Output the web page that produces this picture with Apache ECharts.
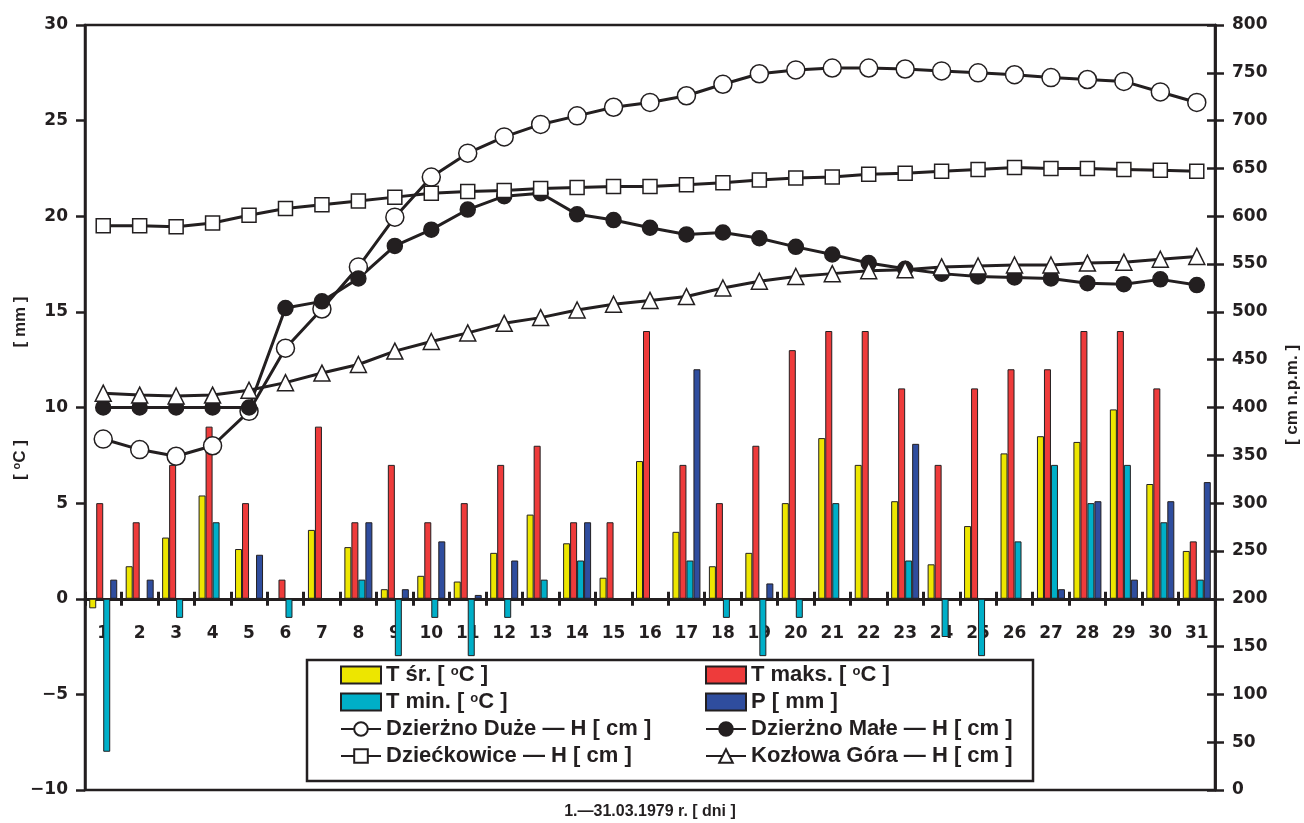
<!DOCTYPE html>
<html>
<head>
<meta charset="utf-8">
<title>Marzec 1979 – temperatura, opad i stany wód</title>
<script src="https://cdn.jsdelivr.net/npm/echarts@6/dist/echarts.min.js"></script>
<style>
  html, body { margin: 0; padding: 0; background: #ffffff; }
  #chart { width: 1304px; height: 823px; }
</style>
</head>
<body>
<div id="chart"></div>
<script>
// Days of March 1979
const days = ['1','2','3','4','5','6','7','8','9','10','11','12','13','14','15','16',
              '17','18','19','20','21','22','23','24','25','26','27','28','29','30','31'];

// Daily air temperature [°C] and precipitation [mm] (left axis)
const tAvg = [-0.5, 1.7, 3.2, 5.4, 2.6, 0, 3.6, 2.7, 0.5, 1.2, 0.9, 2.4, 4.4, 2.9, 1.1, 7.2,
              3.5, 1.7, 2.4, 5.0, 8.4, 7.0, 5.1, 1.8, 3.8, 7.6, 8.5, 8.2, 9.9, 6.0, 2.5];
const tMax = [5, 4, 7, 9, 5, 1, 9, 4, 7, 4, 5, 7, 8, 4, 4, 14,
              7, 5, 8, 13, 14, 14, 11, 7, 11, 12, 12, 14, 14, 11, 3];
const tMin = [-8, null, -1, 4, null, -1, null, 1, -3, -1, -3, -1, 1, 2, null, null,
              2, -1, -3, -1, 5, null, 2, -2, -3, 3, 7, 5, 7, 4, 1];
const precip = [1, 1, null, null, 2.3, null, null, 4, 0.5, 3, 0.2, 2, null, 4, null, null,
                12, null, 0.8, null, null, null, 8.1, null, null, null, 0.5, 5.1, 1, 5.1, 6.1];

// Reservoir water levels H [cm n.p.m.] (right axis)
const hDuze = [367, 356, 349, 360, 396, 462, 503, 547, 599, 641, 666, 683, 696, 705, 714, 719,
               726, 738, 749, 753, 755, 755, 754, 752, 750, 748, 745, 743, 741, 730, 719];
const hMale = [400, 400, 400, 400, 400, 504, 511, 535, 569, 586, 607, 621, 624, 602, 596, 588,
               581, 583, 577, 568, 560, 551, 545, 540, 537, 536, 535, 530, 529, 534, 528];
const hDzieckowice = [590, 590, 589, 593, 601, 608, 612, 616, 620, 624, 626, 627, 629, 630, 631, 631,
                      633, 635, 638, 640, 641, 644, 645, 647, 649, 651, 650, 650, 649, 648, 647];
const hKozlowa = [415, 413, 412, 413, 418, 426, 436, 445, 459, 469, 478, 488, 494, 502, 508, 512,
                  516, 525, 532, 537, 540, 543, 544, 547, 548, 549, 549, 551, 552, 555, 558];

const INK = '#231f20';
const FONT = "'Liberation Sans', Arial, Helvetica, sans-serif";
const TICK_FONT = "'DejaVu Sans', 'Liberation Sans', Arial, sans-serif";

function barSeries(name, data, color) {
  return {
    type: 'bar', name: name, data: data,
    xAxisIndex: 0, yAxisIndex: 0,
    barWidth: 7, barGap: '0%',
    itemStyle: { color: color, borderColor: INK, borderWidth: 1 },
    z: 2
  };
}

function lineSeries(name, data, symbol, size, fill) {
  return {
    type: 'line', name: name, data: data,
    xAxisIndex: 0, yAxisIndex: 1,
    symbol: symbol, symbolSize: size, showAllSymbol: true,
    itemStyle: { color: fill, borderColor: INK, borderWidth: 1.5 },
    lineStyle: { color: INK, width: 3 },
    z: 5
  };
}

const minus = v => String(v).replace('-', '\u2212');

const chart = echarts.init(document.getElementById('chart'), null, { renderer: 'canvas' });

// raised small "o" used in the degree unit
const supStyle = { fontSize: 13, fontWeight: 'bold', fontFamily: FONT, color: INK, verticalAlign: 'top', lineHeight: 6 };

const legendText = {
  fontFamily: FONT, fontWeight: 'bold', fontSize: 22, lineHeight: 20, color: INK,
  rich: { sup: supStyle }
};
const legendFmt = n => n.replace('°', '{sup|o}');
const barIcon = n => ({ name: n, icon: 'rect' });

const legendCommon = {
  top: 664, orient: 'vertical', padding: 0,
  itemWidth: 40, itemHeight: 17, itemGap: 5,
  textStyle: legendText, formatter: legendFmt, selectedMode: false
};

const tickLabel = { color: INK, fontFamily: TICK_FONT, fontWeight: 'bold', fontSize: 17 };

chart.setOption({
  animation: false,
  backgroundColor: '#ffffff',
  grid: { left: 85, right: 89, top: 25, bottom: 33, show: true, borderColor: INK, borderWidth: 2.5 },
  xAxis: [
    {
      type: 'category', data: days, position: 'bottom',
      axisLine: { onZero: true, onZeroAxisIndex: 0, lineStyle: { color: INK, width: 3 } },
      axisTick: { show: true, inside: false, length: 7, interval: 0, lineStyle: { color: INK, width: 3 } },
      // day numbers sit just below the zero line
      axisLabel: Object.assign({ interval: 0, margin: -165 }, tickLabel),
      splitLine: { show: false }
    },
    {
      // upper half of the crossing ticks on the zero line
      type: 'category', data: days, position: 'top',
      axisLine: { onZero: true, onZeroAxisIndex: 0, lineStyle: { color: INK, width: 3 } },
      axisTick: { show: true, inside: false, length: 7, interval: 0, lineStyle: { color: INK, width: 3 } },
      axisLabel: { show: false },
      splitLine: { show: false }
    }
  ],
  yAxis: [
    {
      type: 'value', position: 'left', min: -10, max: 30, interval: 5,
      axisLine: { show: true, lineStyle: { color: INK, width: 2.5 } },
      axisTick: { show: true, inside: false, length: 9, lineStyle: { color: INK, width: 2.5 } },
      axisLabel: Object.assign({ margin: 17, formatter: minus }, tickLabel),
      splitLine: { show: false }
    },
    {
      type: 'value', position: 'right', min: 0, max: 800, interval: 50,
      axisLine: { show: true, lineStyle: { color: INK, width: 2.5 } },
      axisTick: { show: true, inside: false, length: 9, lineStyle: { color: INK, width: 2.5 } },
      axisLabel: Object.assign({ margin: 17 }, tickLabel),
      splitLine: { show: false }
    },
    {
      type: 'value', position: 'right', min: 0, max: 800, interval: 50,
      axisLine: { show: true, lineStyle: { color: INK, width: 2.5 } },
      axisTick: { show: true, inside: true, length: 8, lineStyle: { color: INK, width: 2.5 } },
      axisLabel: { show: false },
      splitLine: { show: false }
    }
  ],
  legend: [
    Object.assign({ left: 340,
      data: [barIcon('T śr. [ °C ]'), barIcon('T min. [ °C ]'), 'Dzierżno Duże — H [ cm ]', 'Dziećkowice — H [ cm ]']
    }, legendCommon),
    Object.assign({ left: 705,
      data: [barIcon('T maks. [ °C ]'), barIcon('P [ mm ]'), 'Dzierżno Małe — H [ cm ]', 'Kozłowa Góra — H [ cm ]']
    }, legendCommon)
  ],
  graphic: {
    elements: [
      {
        type: 'rect', z: 3, shape: { x: 307, y: 660, width: 726, height: 121 },
        style: { fill: '#ffffff', stroke: INK, lineWidth: 2.5 }
      },
      {
        type: 'text', x: 20, y: 460, rotation: Math.PI / 2,
        style: {
          text: '[ {sup|o}C ]', textAlign: 'center', textVerticalAlign: 'middle',
          fontFamily: FONT, fontWeight: 'bold', fontSize: 17, lineHeight: 18, fill: INK,
          rich: { sup: { fontSize: 11, fontWeight: 'bold', fontFamily: FONT, fill: INK, verticalAlign: 'top', lineHeight: 6 } }
        }
      },
      {
        type: 'text', x: 20, y: 322, rotation: Math.PI / 2,
        style: {
          text: '[ mm ]', textAlign: 'center', textVerticalAlign: 'middle',
          fontFamily: FONT, fontWeight: 'bold', fontSize: 17, fill: INK
        }
      },
      {
        type: 'text', x: 1292, y: 395, rotation: Math.PI / 2,
        style: {
          text: '[ cm n.p.m. ]', textAlign: 'center', textVerticalAlign: 'middle',
          fontFamily: FONT, fontWeight: 'bold', fontSize: 17, fill: INK
        }
      },
      {
        type: 'text', x: 650, y: 812,
        style: {
          text: '1.\u201431.03.1979 r. [ dni ]', textAlign: 'center', textVerticalAlign: 'middle',
          fontFamily: FONT, fontWeight: 'bold', fontSize: 16, fill: INK
        }
      }
    ]
  },
  series: [
    barSeries('T śr. [ °C ]', tAvg, '#ede600'),
    barSeries('T maks. [ °C ]', tMax, '#ee3b3b'),
    barSeries('T min. [ °C ]', tMin, '#00afc8'),
    barSeries('P [ mm ]', precip, '#2f4d9e'),
    lineSeries('Dzierżno Duże — H [ cm ]', hDuze, 'circle', 18, '#ffffff'),
    lineSeries('Dzierżno Małe — H [ cm ]', hMale, 'circle', 15, INK),
    lineSeries('Dziećkowice — H [ cm ]', hDzieckowice, 'rect', 14, '#ffffff'),
    lineSeries('Kozłowa Góra — H [ cm ]', hKozlowa, 'triangle', 16, '#ffffff')
  ]
});
</script>
</body>
</html>
